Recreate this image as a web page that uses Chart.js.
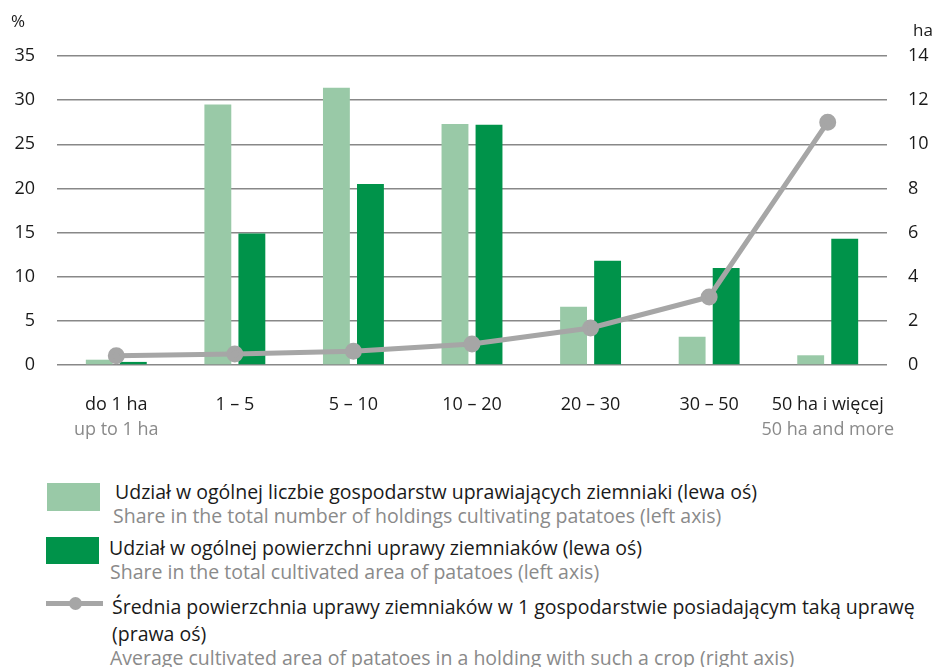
<!DOCTYPE html>
<html>
<head>
<meta charset="utf-8">
<script src="https://cdn.jsdelivr.net/npm/chart.js@4"></script>
<style>
  body { margin: 0; background: #fff; font-family: "Open Sans", Lato, sans-serif; }
  #wrap { position: relative; width: 939px; height: 445px; }
  .legend { position: absolute; left: 0; top: 0; width: 939px; font-size: 19.5px; color: #1a1a1a; }
  .pl { position: absolute; white-space: nowrap; line-height: 26px; }
  .en { position: absolute; white-space: nowrap; color: #8a8a8a; line-height: 26px; }
</style>
</head>
<body>
<div id="wrap"><canvas id="potatoChart" width="939" height="445"></canvas></div>
<div class="legend">
  <div style="position:absolute; left:47px; top:483px; width:53px; height:28px; background:#99c9a7;"></div>
  <div class="pl" style="left:115px; top:479px;">Udział w ogólnej liczbie gospodarstw uprawiających ziemniaki (lewa oś)</div>
  <div class="en" style="left:113px; top:503px;">Share in the total number of holdings cultivating patatoes (left axis)</div>

  <div style="position:absolute; left:46px; top:537px; width:53px; height:27px; background:#00934a;"></div>
  <div class="pl" style="left:109px; top:535px;">Udział w ogólnej powierzchni uprawy ziemniaków (lewa oś)</div>
  <div class="en" style="left:110px; top:559px;">Share in the total cultivated area of patatoes (left axis)</div>

  <div style="position:absolute; left:46px; top:601px; width:57px; height:5px; background:#a6a6a6;"></div>
  <div style="position:absolute; left:69px; top:597px; width:13px; height:13px; border-radius:50%; background:#a6a6a6;"></div>
  <div class="pl" style="left:112px; top:594px;">Średnia powierzchnia uprawy ziemniaków w 1 gospodarstwie posiadającym taką uprawę</div>
  <div class="pl" style="left:112px; top:621px;">(prawa oś)</div>
  <div class="en" style="left:110px; top:645px;">Average cultivated area of patatoes in a holding with such a crop (right axis)</div>
</div>
<script>
// size groups of farms
const categories = ["do 1 ha", "1 – 5", "5 – 10", "10 – 20", "20 – 30", "30 – 50", "50 ha i więcej"];
const subLabels = ["up to 1 ha", "", "", "", "", "", "50 ha and more"];

// % of holdings, % of area (left axis), average area in ha (right axis)
const shareHoldings = [0.6, 29.5, 31.4, 27.3, 6.6, 3.2, 1.1];
const shareArea = [0.35, 14.9, 20.5, 27.2, 11.8, 11.0, 14.3];
const avgArea = [0.42, 0.5, 0.62, 0.95, 1.68, 3.08, 11.0];

const leftTicks = [0, 5, 10, 15, 20, 25, 30, 35];
const rightTicks = [0, 2, 4, 6, 8, 10, 12, 14];

const tickFont = { family: "'Open Sans', Lato, sans-serif", size: 18 };

// draws the unit labels "%" and "ha" above the axes
const unitLabels = {
  id: "unitLabels",
  afterDraw(chart) {
    const c = chart.ctx;
    c.save();
    c.font = "17px 'Open Sans', Lato, sans-serif";
    c.fillStyle = "#1a1a1a";
    c.textBaseline = "alphabetic";
    c.textAlign = "left";
    c.fillText("%", 11, 27);
    c.fillText("ha", 913, 36);
    c.restore();
  },
};

const ctx = document.getElementById("potatoChart").getContext("2d");

const config = {
  type: "bar",
  data: {
    labels: categories,
    datasets: [
      {
        type: "line",
        label: "Średnia powierzchnia",
        data: avgArea,
        yAxisID: "y2",
        borderColor: "#a6a6a6",
        backgroundColor: "#a6a6a6",
        borderWidth: 5,
        pointRadius: 6,
        pointHoverRadius: 6,
        tension: 0,
        order: 0,
      },
      {
        label: "Udział w ogólnej liczbie gospodarstw",
        data: shareHoldings,
        yAxisID: "y",
        backgroundColor: "#99c9a7",
        categoryPercentage: 0.574,
        barPercentage: 0.79,
        order: 1,
      },
      {
        label: "Udział w ogólnej powierzchni",
        data: shareArea,
        yAxisID: "y",
        backgroundColor: "#00934a",
        categoryPercentage: 0.574,
        barPercentage: 0.79,
        order: 1,
      },
    ],
  },
  options: {
    responsive: false,
    animation: false,
    layout: { padding: { top: 56, bottom: 0, left: 0, right: 0 } },
    plugins: {
      legend: { display: false },
      tooltip: { enabled: false },
    },
    scales: {
      x: {
        grid: { display: false, tickLength: 0 },
        border: { display: false },
        ticks: { color: "#1a1a1a", font: tickFont, padding: 29, maxRotation: 0, autoSkip: false },
        afterFit: (s) => { s.height = 52; },
      },
      x2: {
        position: "bottom",
        weight: 1,
        labels: subLabels,
        grid: { display: false, tickLength: 0 },
        border: { display: false },
        ticks: { color: "#8a8a8a", font: tickFont, padding: 2, maxRotation: 0, autoSkip: false },
        afterFit: (s) => { s.height = 28; },
      },
      y: {
        position: "left",
        min: 0,
        max: 35,
        afterBuildTicks: (s) => { s.ticks = leftTicks.map((v) => ({ value: v })); },
        ticks: { color: "#1a1a1a", font: tickFont, padding: 22 },
        grid: { color: "#888888", lineWidth: 1.5, drawTicks: false },
        border: { display: false },
        afterFit: (s) => { s.width = 57; },
      },
      y2: {
        position: "right",
        min: 0,
        max: 14,
        afterBuildTicks: (s) => { s.ticks = rightTicks.map((v) => ({ value: v })); },
        ticks: { color: "#1a1a1a", font: tickFont, padding: 21 },
        grid: { display: false, drawTicks: false },
        border: { display: false },
        afterFit: (s) => { s.width = 52; },
      },
    },
  },
  plugins: [unitLabels],
};

const potatoChart = new Chart(ctx, config);
</script>
</body>
</html>
